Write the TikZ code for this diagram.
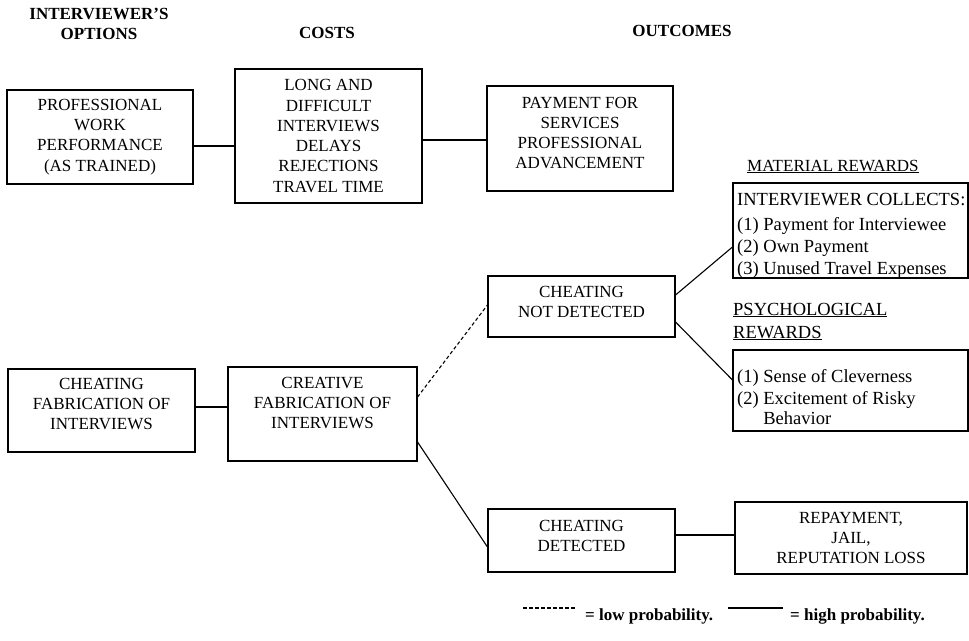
\documentclass[tikz,border=0pt]{standalone}
\usepackage{fontspec}
\setmainfont{Liberation Serif}
\begin{document}
\begin{tikzpicture}[x=1pt,y=-1pt]
\tikzset{
 box/.style={draw, line width=1.1pt, rectangle, inner sep=0pt},
 ctxt/.style={align=center, font=\fontsize{17}{20.3}\selectfont, inner sep=0pt},
 hdr/.style={align=center, font=\fontsize{17}{20}\selectfont\bfseries, inner sep=0pt},
 rtxt/.style={anchor=west, font=\fontsize{18.5}{22}\selectfont, inner sep=0pt, text height=12pt, text depth=0pt},
 conn/.style={line width=1.1pt},
 lowp/.style={conn, dash pattern=on 3.5pt off 2.5pt},
 legtxt/.style={anchor=west, font=\fontsize{17}{20}\selectfont\bfseries, inner sep=0pt, text height=12pt, text depth=0pt},
}
\path[use as bounding box] (0,0) rectangle (969,640);

% headers
\node[hdr] (h1) at (99,24) {INTERVIEWER'S\\OPTIONS};
\node[hdr] (h2) at (327,32.5) {COSTS};
\node[hdr] (h3) at (682,31) {OUTCOMES};

% top row
\node[box, minimum width=186pt, minimum height=94pt] (b1) at (100,137) {};
\node[ctxt] (b1t) at (b1.center) {PROFESSIONAL\\WORK\\PERFORMANCE\\(AS TRAINED)};
\node[box, minimum width=187pt, minimum height=134pt] (b2) at (328.5,136) {};
\node[ctxt] (b2t) at (b2.center) {LONG AND\\DIFFICULT\\INTERVIEWS\\DELAYS\\REJECTIONS\\TRAVEL TIME};
\node[box, minimum width=186pt, minimum height=105pt] (b3) at (580,138.5) {};
\node[ctxt] (b3t) at ([yshift=5.5pt]b3.center) {PAYMENT FOR\\SERVICES\\PROFESSIONAL\\ADVANCEMENT};

% material rewards
\node[rtxt] (mh) at (747,165) {\fontsize{17}{20}\selectfont\underline{MATERIAL REWARDS}};
\node[box, minimum width=235pt, minimum height=95pt] (mat) at (850.5,230.5) {};
\node[rtxt] (m0) at (737,199) {INTERVIEWER COLLECTS:};
\node[rtxt] (m1) at (737,224) {(1) Payment for Interviewee};
\node[rtxt] (m2) at (737,246) {(2) Own Payment};
\node[rtxt] (m3) at (737,268) {(3) Unused Travel Expenses};

% psychological rewards
\node[rtxt] (ph1) at (733,309) {\underline{PSYCHOLOGICAL}};
\node[rtxt] (ph2) at (733,332) {\underline{REWARDS}};
\node[box, minimum width=235pt, minimum height=81pt] (psy) at (850.5,390.5) {};
\node[rtxt] (p1) at (737,376) {(1) Sense of Cleverness};
\node[rtxt] (p2) at (737,398) {(2) Excitement of Risky};
\node[rtxt] (p3) at (737,418) {\phantom{(2) }Behavior};

% middle / lower
\node[box, minimum width=187pt, minimum height=61pt] (cnd) at (581.5,306.5) {};
\node[ctxt] (cndt) at ([yshift=4.5pt]cnd.center) {CHEATING\\NOT DETECTED};
\node[box, minimum width=187pt, minimum height=83pt] (cf) at (101.5,410.5) {};
\node[ctxt] (cft) at ([yshift=6.5pt]cf.center) {CHEATING\\FABRICATION OF\\INTERVIEWS};
\node[box, minimum width=189pt, minimum height=94pt] (cr) at (322.5,414) {};
\node[ctxt] (crt) at ([yshift=11pt]cr.center) {CREATIVE\\FABRICATION OF\\INTERVIEWS};
\node[box, minimum width=187pt, minimum height=63pt] (cd) at (581.5,540.5) {};
\node[ctxt] (cdt) at ([yshift=4.5pt]cd.center) {CHEATING\\DETECTED};
\node[box, minimum width=232pt, minimum height=72pt] (rp) at (851,538) {};
\node[ctxt] (rpt) at (rp.center) {REPAYMENT,\\JAIL,\\REPUTATION LOSS};

% connectors
\coordinate (c1) at ([yshift=-9pt]b1.east);
\draw[conn] (c1) -- (c1 -| b2.west);
\coordinate (c2) at ([yshift=-4pt]b2.east);
\draw[conn] (c2) -- (c2 -| b3.west);
\coordinate (c3) at ([yshift=3.5pt]cf.east);
\draw[conn] (c3) -- (c3 -| cr.west);
\draw[lowp] ([yshift=17pt]cr.east) -- ([yshift=1.5pt]cnd.west);
\draw[conn] ([yshift=-28pt]cr.east) -- ([yshift=-6.5pt]cd.west);
\draw[conn] ([yshift=11.5pt]cnd.east) -- ([yshift=-16.5pt]mat.west);
\draw[conn] ([yshift=-15.5pt]cnd.east) -- ([yshift=10.5pt]psy.west);
\coordinate (c4) at ([yshift=5.5pt]cd.east);
\draw[conn] (c4) -- (c4 -| rp.west);

% legend
\coordinate (la) at (523,608);
\coordinate (lb) at (575,608);
\draw[lowp] (la) -- (lb);
\node[legtxt] (lt) at (585,614) {= low probability.};
\coordinate (ha) at (728,608);
\coordinate (hb) at (783,608);
\draw[conn] (ha) -- (hb);
\node[legtxt] (ht) at (790,614) {= high probability.};
\end{tikzpicture}
\end{document}
